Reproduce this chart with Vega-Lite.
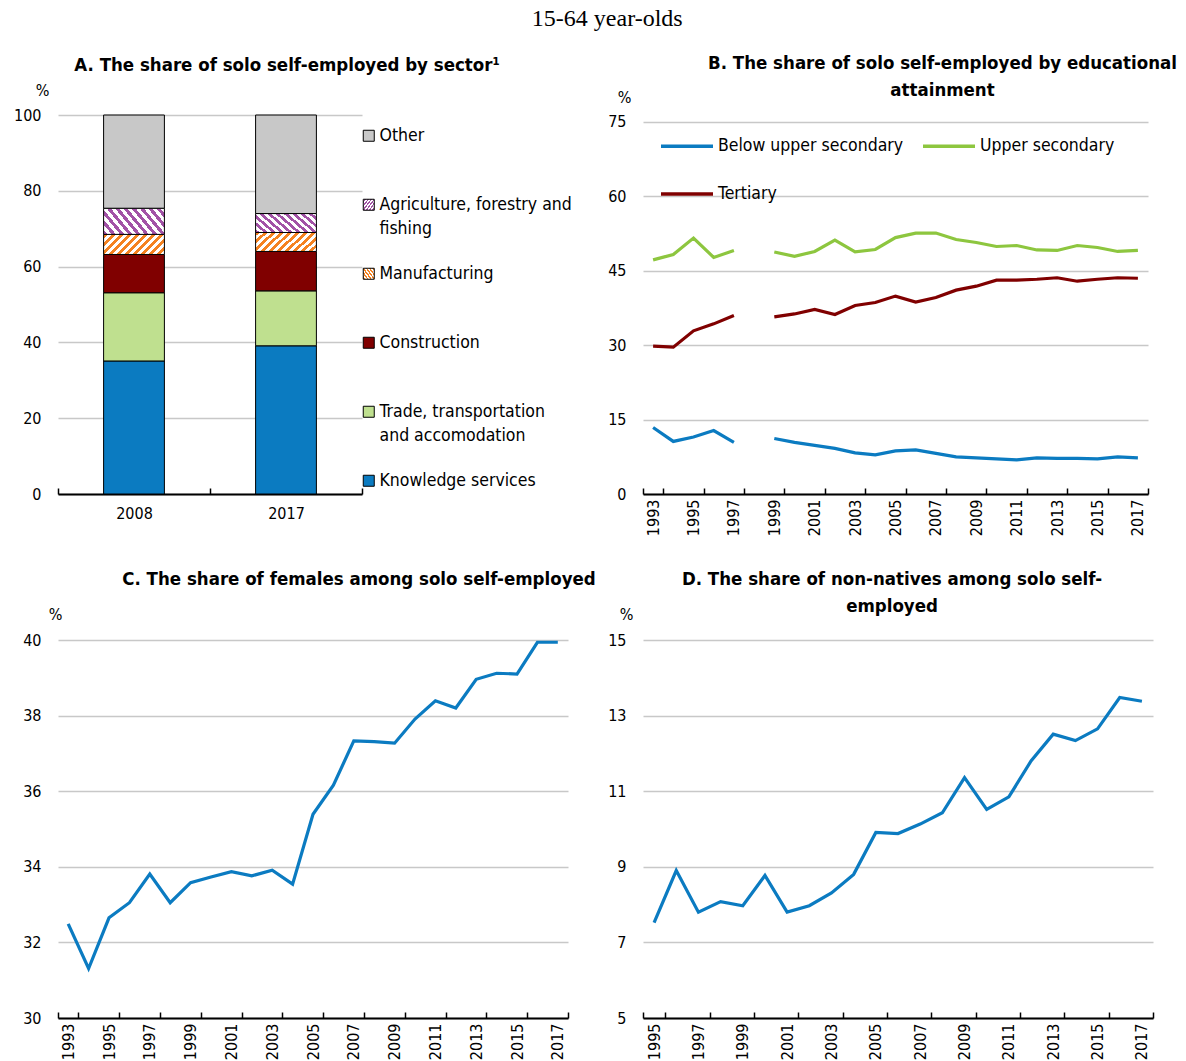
{
  "$schema": "https://vega.github.io/schema/vega-lite/v6.json",
  "padding": {"left": 13, "top": 6, "right": 5, "bottom": 0},
  "title": {"text": "15-64 year-olds", "font": "Liberation Serif", "fontSize": 24, "fontWeight": "normal", "color": "#000", "anchor": "middle", "offset": 23, "dx": 12},
  "config": {
    "view": {"stroke": null},
    "font": "DejaVu Sans Condensed, sans-serif",
    "style": {"guide-label": {"lineHeight": 24}},
    "axis": {
      "labelFont": "DejaVu Sans Condensed, sans-serif",
      "labelFontSize": 16, "labelColor": "#000",
      "titleFont": "DejaVu Sans Condensed, sans-serif",
      "titleFontSize": 16, "titleFontWeight": "normal", "titleColor": "#000",
      "gridColor": "#c8c8c8", "gridWidth": 1.5,
      "domainColor": "#000", "domainWidth": 2, "tickColor": "#000", "tickWidth": 1.5
    },
    "axisY": {"domain": false, "ticks": false, "grid": true, "labelPadding": 17, "titleAngle": 0, "titleAlign": "center", "titleBaseline": "middle"},
    "axisX": {"grid": false, "tickSize": -6, "labelPadding": 11},
    "title": {"font": "DejaVu Sans Condensed, sans-serif", "fontSize": 18.5, "fontWeight": "bold", "color": "#000"},
    "legend": {"labelFont": "DejaVu Sans Condensed, sans-serif", "labelFontSize": 17.5, "labelColor": "#000", "padding": 0}
  },
  "bounds": "flush",
  "columns": 2,
  "spacing": {"row": 146, "column": 75},
  "resolve": {"scale": {"color": "independent"}, "legend": {"color": "independent"}},
  "concat": [
    {
      "width": 304, "height": 379,
      "title": {"text": "A. The share of solo self-employed by sector¹", "anchor": "middle", "dx": 77, "offset": 8},
      "data": {"values": [
        {"year": "2008", "sector": "Knowledge services", "share": 35.1},
        {"year": "2008", "sector": "Trade, transportation and accomodation", "share": 18.0},
        {"year": "2008", "sector": "Construction", "share": 10.1},
        {"year": "2008", "sector": "Manufacturing", "share": 5.3},
        {"year": "2008", "sector": "Agriculture, forestry and fishing", "share": 6.9},
        {"year": "2008", "sector": "Other", "share": 24.6},
        {"year": "2017", "sector": "Knowledge services", "share": 39.1},
        {"year": "2017", "sector": "Trade, transportation and accomodation", "share": 14.5},
        {"year": "2017", "sector": "Construction", "share": 10.4},
        {"year": "2017", "sector": "Manufacturing", "share": 5.0},
        {"year": "2017", "sector": "Agriculture, forestry and fishing", "share": 5.0},
        {"year": "2017", "sector": "Other", "share": 26.0}
      ]},
      "transform": [
        {"calculate": "indexof(['Knowledge services', 'Trade, transportation and accomodation', 'Construction', 'Manufacturing', 'Agriculture, forestry and fishing', 'Other'], datum.sector)", "as": "stack_order"}
      ],
      "mark": {"type": "bar", "width": {"band": 0.4}, "stroke": "#000", "strokeWidth": 1},
      "encoding": {
        "x": {"field": "year", "type": "nominal", "scale": {"paddingInner": 0, "paddingOuter": 0},
              "axis": {"title": null, "labelAngle": 0, "tickBand": "extent", "labelPadding": 17}},
        "y": {"field": "share", "type": "quantitative", "stack": "zero", "scale": {"domain": [0, 100], "nice": false},
              "axis": {"values": [0, 20, 40, 60, 80, 100], "title": "%", "titleX": -16, "titleY": -25}},
        "order": {"field": "stack_order", "type": "quantitative", "sort": "ascending"},
        "color": {
          "field": "sector", "type": "nominal",
          "scale": {
            "domain": ["Other", "Agriculture, forestry and fishing", "Manufacturing", "Construction", "Trade, transportation and accomodation", "Knowledge services"],
            "range": [
              "#c8c8c8",
              {"expr": "{gradient: 'linear', x1: 0, y1: 1, x2: 1.204, y2: 0.567, stops: [{offset:0,color:'#a252a6'},{offset:0.05,color:'#a252a6'},{offset:0.05,color:'#fff'},{offset:0.1,color:'#fff'},{offset:0.1,color:'#a252a6'},{offset:0.15,color:'#a252a6'},{offset:0.15,color:'#fff'},{offset:0.2,color:'#fff'},{offset:0.2,color:'#a252a6'},{offset:0.25,color:'#a252a6'},{offset:0.25,color:'#fff'},{offset:0.3,color:'#fff'},{offset:0.3,color:'#a252a6'},{offset:0.35,color:'#a252a6'},{offset:0.35,color:'#fff'},{offset:0.4,color:'#fff'},{offset:0.4,color:'#a252a6'},{offset:0.45,color:'#a252a6'},{offset:0.45,color:'#fff'},{offset:0.5,color:'#fff'},{offset:0.5,color:'#a252a6'},{offset:0.55,color:'#a252a6'},{offset:0.55,color:'#fff'},{offset:0.6,color:'#fff'},{offset:0.6,color:'#a252a6'},{offset:0.65,color:'#a252a6'},{offset:0.65,color:'#fff'},{offset:0.7,color:'#fff'},{offset:0.7,color:'#a252a6'},{offset:0.75,color:'#a252a6'},{offset:0.75,color:'#fff'},{offset:0.8,color:'#fff'},{offset:0.8,color:'#a252a6'},{offset:0.85,color:'#a252a6'},{offset:0.85,color:'#fff'},{offset:0.9,color:'#fff'},{offset:0.9,color:'#a252a6'},{offset:0.95,color:'#a252a6'},{offset:0.95,color:'#fff'},{offset:1,color:'#fff'}]}"},
              {"expr": "{gradient: 'linear', x1: 0, y1: 0, x2: 1.199, y2: 0.396, stops: [{offset:0,color:'#f58220'},{offset:0.05,color:'#f58220'},{offset:0.05,color:'#fff'},{offset:0.1,color:'#fff'},{offset:0.1,color:'#f58220'},{offset:0.15,color:'#f58220'},{offset:0.15,color:'#fff'},{offset:0.2,color:'#fff'},{offset:0.2,color:'#f58220'},{offset:0.25,color:'#f58220'},{offset:0.25,color:'#fff'},{offset:0.3,color:'#fff'},{offset:0.3,color:'#f58220'},{offset:0.35,color:'#f58220'},{offset:0.35,color:'#fff'},{offset:0.4,color:'#fff'},{offset:0.4,color:'#f58220'},{offset:0.45,color:'#f58220'},{offset:0.45,color:'#fff'},{offset:0.5,color:'#fff'},{offset:0.5,color:'#f58220'},{offset:0.55,color:'#f58220'},{offset:0.55,color:'#fff'},{offset:0.6,color:'#fff'},{offset:0.6,color:'#f58220'},{offset:0.65,color:'#f58220'},{offset:0.65,color:'#fff'},{offset:0.7,color:'#fff'},{offset:0.7,color:'#f58220'},{offset:0.75,color:'#f58220'},{offset:0.75,color:'#fff'},{offset:0.8,color:'#fff'},{offset:0.8,color:'#f58220'},{offset:0.85,color:'#f58220'},{offset:0.85,color:'#fff'},{offset:0.9,color:'#fff'},{offset:0.9,color:'#f58220'},{offset:0.95,color:'#f58220'},{offset:0.95,color:'#fff'},{offset:1,color:'#fff'}]}"},
              "#800000",
              "#bfe08f",
              "#0b7bc1"
            ]
          },
          "legend": {
            "title": null, "orient": "none", "legendX": 302, "legendY": 12,
            "symbolType": "square", "symbolSize": 121, "symbolStrokeColor": "#000", "symbolStrokeWidth": 1,
            "labelOffset": 2, "labelLimit": 400, "rowPadding": 26, "gridAlign": "all",
            "labelExpr": "datum.label == 'Agriculture, forestry and fishing' ? ['Agriculture, forestry and', 'fishing'] : datum.label == 'Trade, transportation and accomodation' ? ['Trade, transportation', 'and accomodation'] : [datum.label, ' ']"
          }
        }
      }
    },
    {
      "width": 505, "height": 379,
      "title": {"text": ["B. The share of solo self-employed by educational", "attainment"], "anchor": "middle", "dx": 47, "lineHeight": 27, "offset": -10},
      "data": {"values": [
        {"year": 1993, "Below upper secondary": 13.4, "Upper secondary": 47.2, "Tertiary": 29.8},
        {"year": 1994, "Below upper secondary": 10.6, "Upper secondary": 48.3, "Tertiary": 29.6},
        {"year": 1995, "Below upper secondary": 11.5, "Upper secondary": 51.6, "Tertiary": 32.9},
        {"year": 1996, "Below upper secondary": 12.8, "Upper secondary": 47.7, "Tertiary": 34.3},
        {"year": 1997, "Below upper secondary": 10.4, "Upper secondary": 49.1, "Tertiary": 36.0},
        {"year": 1998, "Below upper secondary": null, "Upper secondary": null, "Tertiary": null},
        {"year": 1999, "Below upper secondary": 11.2, "Upper secondary": 48.8, "Tertiary": 35.7},
        {"year": 2000, "Below upper secondary": 10.4, "Upper secondary": 47.9, "Tertiary": 36.3},
        {"year": 2001, "Below upper secondary": 9.8, "Upper secondary": 48.9, "Tertiary": 37.2},
        {"year": 2002, "Below upper secondary": 9.2, "Upper secondary": 51.2, "Tertiary": 36.2},
        {"year": 2003, "Below upper secondary": 8.3, "Upper secondary": 48.8, "Tertiary": 38.0},
        {"year": 2004, "Below upper secondary": 7.9, "Upper secondary": 49.3, "Tertiary": 38.6},
        {"year": 2005, "Below upper secondary": 8.7, "Upper secondary": 51.7, "Tertiary": 39.9},
        {"year": 2006, "Below upper secondary": 8.9, "Upper secondary": 52.6, "Tertiary": 38.7},
        {"year": 2007, "Below upper secondary": 8.2, "Upper secondary": 52.6, "Tertiary": 39.6},
        {"year": 2008, "Below upper secondary": 7.5, "Upper secondary": 51.3, "Tertiary": 41.1},
        {"year": 2009, "Below upper secondary": 7.3, "Upper secondary": 50.7, "Tertiary": 41.9},
        {"year": 2010, "Below upper secondary": 7.1, "Upper secondary": 49.9, "Tertiary": 43.1},
        {"year": 2011, "Below upper secondary": 6.9, "Upper secondary": 50.1, "Tertiary": 43.1},
        {"year": 2012, "Below upper secondary": 7.3, "Upper secondary": 49.2, "Tertiary": 43.3},
        {"year": 2013, "Below upper secondary": 7.2, "Upper secondary": 49.1, "Tertiary": 43.6},
        {"year": 2014, "Below upper secondary": 7.2, "Upper secondary": 50.1, "Tertiary": 42.9},
        {"year": 2015, "Below upper secondary": 7.1, "Upper secondary": 49.7, "Tertiary": 43.3},
        {"year": 2016, "Below upper secondary": 7.5, "Upper secondary": 48.9, "Tertiary": 43.6},
        {"year": 2017, "Below upper secondary": 7.3, "Upper secondary": 49.1, "Tertiary": 43.5}
      ]},
      "transform": [{"fold": ["Below upper secondary", "Upper secondary", "Tertiary"], "as": ["level", "share"]}],
      "mark": {"type": "line", "strokeWidth": 3.2, "invalid": "break-paths-show-domains"},
      "encoding": {
        "x": {"field": "year", "type": "ordinal", "scale": {"type": "band", "paddingInner": 0, "paddingOuter": 0},
              "axis": {"title": null, "labelAngle": -90, "tickBand": "extent", "values": [1993, 1995, 1997, 1999, 2001, 2003, 2005, 2007, 2009, 2011, 2013, 2015, 2017]}},
        "y": {"field": "share", "type": "quantitative", "scale": {"domain": [0, 76.41], "nice": false},
              "axis": {"values": [0, 15, 30, 45, 60, 75], "title": "%", "titleX": -19, "titleY": -18}},
        "color": {"field": "level", "type": "nominal",
                  "scale": {"domain": ["Below upper secondary", "Upper secondary", "Tertiary"], "range": ["#0b7bc1", "#8dc63f", "#800000"]},
                  "legend": {"title": null, "orient": "none", "legendX": 16, "legendY": 3, "columns": 2, "direction": "horizontal",
                             "symbolType": "stroke", "symbolSize": 2704, "symbolStrokeWidth": 3.5,
                             "labelOffset": 3, "columnPadding": 12, "rowPadding": 11, "labelLimit": 400}}
      }
    },
    {
      "width": 510, "height": 378,
      "title": {"text": "C. The share of females among solo self-employed", "anchor": "middle", "dx": 46, "offset": 18},
      "data": {"values": [
        {"year": 1993, "share": 32.49}, {"year": 1994, "share": 31.31}, {"year": 1995, "share": 32.65},
        {"year": 1996, "share": 33.05}, {"year": 1997, "share": 33.81}, {"year": 1998, "share": 33.05},
        {"year": 1999, "share": 33.58}, {"year": 2000, "share": 33.73}, {"year": 2001, "share": 33.87},
        {"year": 2002, "share": 33.76}, {"year": 2003, "share": 33.91}, {"year": 2004, "share": 33.54},
        {"year": 2005, "share": 35.39}, {"year": 2006, "share": 36.16}, {"year": 2007, "share": 37.33},
        {"year": 2008, "share": 37.31}, {"year": 2009, "share": 37.27}, {"year": 2010, "share": 37.91},
        {"year": 2011, "share": 38.39}, {"year": 2012, "share": 38.2}, {"year": 2013, "share": 38.96},
        {"year": 2014, "share": 39.12}, {"year": 2015, "share": 39.1}, {"year": 2016, "share": 39.94},
        {"year": 2017, "share": 39.94}
      ]},
      "mark": {"type": "line", "strokeWidth": 3.2, "color": "#0b7bc1"},
      "encoding": {
        "x": {"field": "year", "type": "ordinal", "scale": {"type": "band", "paddingInner": 0, "paddingOuter": 0},
              "axis": {"title": null, "labelAngle": -90, "tickBand": "extent", "values": [1993, 1995, 1997, 1999, 2001, 2003, 2005, 2007, 2009, 2011, 2013, 2015, 2017]}},
        "y": {"field": "share", "type": "quantitative", "scale": {"domain": [30, 40], "nice": false},
              "axis": {"values": [30, 32, 34, 36, 38, 40], "title": "%", "titleX": -3, "titleY": -26}}
      }
    },
    {
      "width": 510, "height": 378,
      "title": {"text": ["D. The share of non-natives among solo self-", "employed"], "anchor": "middle", "dx": -6, "lineHeight": 27, "offset": -9},
      "data": {"values": [
        {"year": 1995, "share": 7.52}, {"year": 1996, "share": 8.9}, {"year": 1997, "share": 7.8},
        {"year": 1998, "share": 8.08}, {"year": 1999, "share": 7.97}, {"year": 2000, "share": 8.77},
        {"year": 2001, "share": 7.8}, {"year": 2002, "share": 7.97}, {"year": 2003, "share": 8.31},
        {"year": 2004, "share": 8.8}, {"year": 2005, "share": 9.91}, {"year": 2006, "share": 9.88},
        {"year": 2007, "share": 10.13}, {"year": 2008, "share": 10.43}, {"year": 2009, "share": 11.36},
        {"year": 2010, "share": 10.52}, {"year": 2011, "share": 10.85}, {"year": 2012, "share": 11.8},
        {"year": 2013, "share": 12.51}, {"year": 2014, "share": 12.34}, {"year": 2015, "share": 12.65},
        {"year": 2016, "share": 13.48}, {"year": 2017, "share": 13.38}
      ]},
      "mark": {"type": "line", "strokeWidth": 3.2, "color": "#0b7bc1"},
      "encoding": {
        "x": {"field": "year", "type": "ordinal", "scale": {"type": "band", "paddingInner": 0, "paddingOuter": 0},
              "axis": {"title": null, "labelAngle": -90, "tickBand": "extent", "values": [1995, 1997, 1999, 2001, 2003, 2005, 2007, 2009, 2011, 2013, 2015, 2017]}},
        "y": {"field": "share", "type": "quantitative", "scale": {"domain": [5, 15], "nice": false},
              "axis": {"values": [5, 7, 9, 11, 13, 15], "title": "%", "titleX": -17, "titleY": -26}}
      }
    }
  ]
}
